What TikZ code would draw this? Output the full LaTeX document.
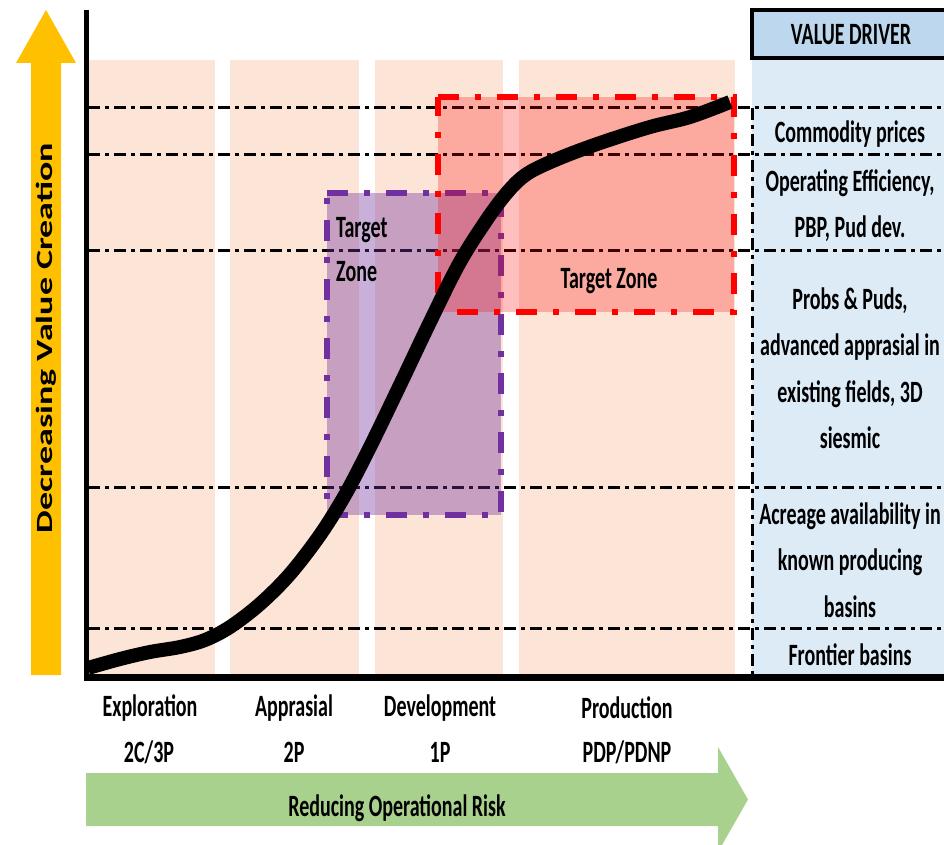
\documentclass[tikz,border=0pt]{standalone}
\usepackage{xcolor}
\usepackage{fontspec}
\setmainfont{Carlito}[FakeStretch=0.645]
\newfontfamily\axisfont{Carlito}
\usepackage{tikz}
\usetikzlibrary{math}

\definecolor{peach}{HTML}{FCE4D6}
\definecolor{panelblue}{HTML}{DDEBF7}
\definecolor{headblue}{HTML}{BDD7EE}
\definecolor{zonepurple}{HTML}{7030A0}
\definecolor{amber}{HTML}{FFC000}
\definecolor{leaf}{HTML}{A9D18E}

\newcommand{\lblfont}{\fontsize{31}{46.5}\selectfont\bfseries}

\begin{document}
\begin{tikzpicture}[x=1pt,y=-1pt,
	lvl/.style={line width=3pt,dash pattern=on 12pt off 5pt on 4pt off 5pt},
	zone/.style={line width=6pt,dash pattern=on 21pt off 16pt on 6pt off 16pt},
	lbl/.style={font=\lblfont,align=center,inner sep=0pt}]
\useasboundingbox (0,0) rectangle (944,845);
\tikzmath{
	\ytop = 60;\ybot = 674;\xp = 752;
	\xc = 850;
};
% stage columns and driver panel
\foreach \l/\r in {89/215,230/359,375/503,519/735}
	\fill[peach] (\l,\ytop) rectangle (\r,\ybot);
\fill[panelblue] (\xp,\ytop) rectangle (944,\ybot);
\draw[line width=4pt,fill=headblue] (\xp,10) rectangle (950,58);
% value levels
\foreach \y in {108,155,250,487,628}
	\draw[lvl] (88,\y) -- (944,\y);
\draw[lvl] (\xp,108) -- (\xp,\ybot);
% target zones
\fill[zonepurple,fill opacity=0.38] (327,193) rectangle (501,515);
\draw[zone,zonepurple] (327,193) -- (501,193) -- (501,515) -- (327,515) -- cycle;
\fill[red,fill opacity=0.25] (438,97) rectangle (734,312);
\draw[zone,red] (438,97) -- (734,97) -- (734,312) -- (438,312) -- cycle;
% axes
\draw[line width=5pt] (86.5,10) -- (86.5,680);
\draw[line width=7pt] (84,677.5) -- (944,677.5);
% value curve
\draw[line width=14pt] plot[smooth,tension=0.55] coordinates {(88,668) (120,659) (150,652)
	(180,647) (205,640) (230,627) (260,604) (290,574) (320,535) (345,495) (370,447)
	(400,385) (430,322) (460,262) (490,215) (512,187) (530,172) (560,158) (600,143)
	(650,127) (690,117) (730,102)};
% risk and value arrows
\fill[amber] (31,675) -- (31,63) -- (16,63) -- (46,10) -- (76,63) -- (61,63) -- (61,675) -- cycle;
\fill[leaf] (86,773) -- (718,773) -- (718,747) -- (748,799.5) -- (718,852) -- (718,826) -- (86,826) -- cycle;
\tikzmath{
	{\node[rotate=90,inner sep=0pt] (dvc) at (46,338) {\axisfont\fontsize{36}{40}\selectfont\bfseries\scalebox{1}[0.645]{Decreasing Value Creation}};};
	{\node[lbl] (ror) at (397,808) {Reducing Operational Risk};};
	%
	{\node[lbl] (ex) at (150,708) {Exploration};};
	{\node[lbl] (exr) at (149,752) {2C/3P};};
	{\node[lbl] (ap) at (294,708) {Apprasial};};
	{\node[lbl] (apr) at (294,752) {2P};};
	{\node[lbl] (dv) at (440,708) {Development};};
	{\node[lbl] (dvr) at (440,752) {1P};};
	{\node[lbl] (pr) at (627,708) {Production};};
	{\node[lbl] (prr) at (627,752) {PDP/PDNP};};
	%
	{\node[lbl,align=left,anchor=west,font=\fontsize{31}{44}\selectfont\bfseries] (tzp) at (336,250) {Target\\Zone};};
	{\node[lbl] (tzr) at (609,281) {Target Zone};};
	%
	{\node[lbl] (vd) at (\xc+1,35) {VALUE DRIVER};};
	{\node[lbl] (cp) at (\xc,134) {Commodity prices};};
	{\node[lbl] (oe) at (\xc,205.5) {Operating Efficiency,\\PBP, Pud dev.};};
	{\node[lbl] (pp) at (\xc,368) {Probs \& Puds,\\advanced apprasial in\\existing fields, 3D\\siesmic};};
	{\node[lbl] (aa) at (\xc,560) {Acreage availability in\\known producing\\basins};};
	{\node[lbl] (fb) at (\xc,655) {Frontier basins};};
};
\end{tikzpicture}
\end{document}
